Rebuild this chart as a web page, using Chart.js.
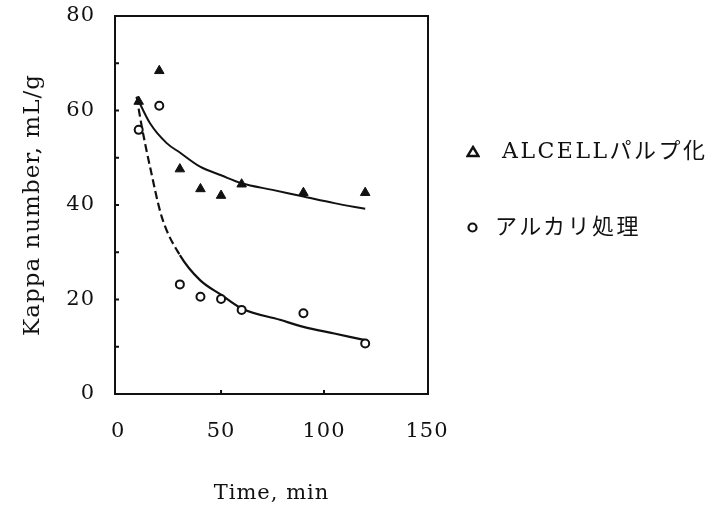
<!DOCTYPE html>
<html>
<head>
<meta charset="utf-8">
<script src="https://cdn.jsdelivr.net/npm/chart.js@4.4.1/dist/chart.umd.min.js"></script>
<style>
html, body { margin: 0; padding: 0; background: #fff; }
#wrap { position: relative; width: 723px; height: 508px; }
.item { position: absolute; white-space: nowrap; font-family: "DejaVu Serif", "Noto Sans CJK JP", serif;
        font-size: 22px; line-height: 22px; letter-spacing: 2.5px; color: #111; }
.sym { position: absolute; }
</style>
</head>
<body>
<div id="wrap">
  <canvas id="myChart" width="723" height="508"></canvas>
  <svg class="sym" style="left:466px;top:145px" width="14" height="13"><polygon points="7,2 12.5,11 1.5,11" fill="#fff" stroke="#111" stroke-width="2.4"/></svg>
  <div class="item" style="left:502px;top:140px">ALCELLパルプ化</div>
  <svg class="sym" style="left:466px;top:221px" width="13" height="13"><circle cx="6.5" cy="6.5" r="4" fill="#fff" stroke="#111" stroke-width="2.2"/></svg>
  <div class="item" style="left:495px;top:216px">アルカリ処理</div>
</div>
<script>
// measured points
const times = [10, 20, 30, 40, 50, 60, 90, 120];
const alcell = [61.9, 68.4, 47.6, 43.4, 42.0, 44.4, 42.6, 42.6];
const alkali = [55.9, 61.0, 23.2, 20.6, 20.1, 17.8, 17.1, 10.7];

// fitted curves
const alcellFitX = [9, 15.5, 23.6, 30, 39.8, 50, 60, 75, 90, 105, 120];
const alcellFitY = [62.9, 57.3, 53.1, 51.1, 48.1, 46.3, 44.6, 43.2, 41.8, 40.4, 39.2];
const alkaliFitX = [9, 11.5, 15.5, 21.2, 30, 39.8, 50, 60, 78.6, 90, 105, 120];
const alkaliFitY = [62.9, 56.6, 48.1, 37.5, 29.4, 24.1, 21.0, 18.1, 15.7, 14.2, 12.8, 11.4];

const xTicks = [0, 50, 100, 150];
const yLabelStep = 20;

const ink = '#111';
const serif = 'DejaVu Serif';

function pairs(xs, ys) {
    return xs.map(function(x, i) { return {x: x, y: ys[i]}; });
}

// box around the plot and small inward ticks
const frame = {
    id: 'frame',
    beforeDraw(chart) {
        chart.ctx.letterSpacing = '1px';
    },
    afterDatasetsDraw(chart) {
        const {ctx, chartArea: a, scales: {x, y}} = chart;
        ctx.save();
        ctx.strokeStyle = ink;
        ctx.lineWidth = 2;
        ctx.strokeRect(a.left, a.top, a.right - a.left, a.bottom - a.top);
        ctx.beginPath();
        y.ticks.forEach(function(t) {
            const py = y.getPixelForValue(t.value);
            ctx.moveTo(a.left, py);
            ctx.lineTo(a.left + 4, py);
        });
        x.ticks.forEach(function(t) {
            if (t.value <= 0 || t.value >= 150) return;
            const px = x.getPixelForValue(t.value);
            ctx.moveTo(px, a.bottom);
            ctx.lineTo(px, a.bottom - 4);
        });
        ctx.stroke();
        ctx.restore();
    }
};

const chartData = {
    datasets: [
        {
            label: 'ALCELLパルプ化',
            data: pairs(times, alcell),
            pointStyle: 'triangle',
            pointRadius: 5.5,
            backgroundColor: ink,
            borderColor: ink,
            borderWidth: 1
        },
        {
            label: 'アルカリ処理',
            data: pairs(times, alkali),
            pointStyle: 'circle',
            pointRadius: 4,
            backgroundColor: '#fff',
            borderColor: ink,
            borderWidth: 2
        },
        {
            label: 'fit1',
            data: pairs(alcellFitX, alcellFitY),
            showLine: true,
            pointRadius: 0,
            borderColor: ink,
            borderWidth: 2,
            cubicInterpolationMode: 'monotone'
        },
        {
            label: 'fit2',
            data: pairs(alkaliFitX, alkaliFitY),
            showLine: true,
            pointRadius: 0,
            borderColor: ink,
            borderWidth: 2.2,
            cubicInterpolationMode: 'monotone',
            segment: {
                borderDash: function(ctx) {
                    return ctx.p0.parsed.x < 30 ? [8, 4] : undefined;
                }
            }
        }
    ]
};

const config = {
    type: 'scatter',
    data: chartData,
    options: {
        responsive: false,
        animation: false,
        events: [],
        layout: { padding: { top: 16, right: 295, left: 0, bottom: 0 } },
        plugins: {
            legend: { display: false },
            tooltip: { enabled: false }
        },
        scales: {
            x: {
                type: 'linear',
                min: -1.5,
                max: 150.5,
                afterFit(s) { s.height = 114; s.paddingLeft = 0; s.paddingRight = 0; },
                afterBuildTicks(s) { s.ticks = xTicks.map(function(v) { return {value: v}; }); },
                grid: { display: false, drawTicks: false },
                border: { display: false },
                ticks: {
                    padding: 25,
                    maxRotation: 0,
                    color: ink,
                    font: { family: serif, size: 21 }
                },
                title: {
                    display: true,
                    text: 'Time, min',
                    color: ink,
                    font: { family: serif, size: 21 },
                    padding: { top: 0, bottom: 2 }
                }
            },
            y: {
                min: 0,
                max: 80,
                afterFit(s) { s.width = 115; s.paddingTop = 0; s.paddingBottom = 0; },
                grid: { display: false, drawTicks: false },
                border: { display: false },
                ticks: {
                    stepSize: 10,
                    padding: 20,
                    color: ink,
                    font: { family: serif, size: 21 },
                    callback: function(v) { return v % yLabelStep === 0 ? v : ''; }
                },
                title: {
                    display: true,
                    text: 'Kappa number, mL/g',
                    color: ink,
                    font: { family: serif, size: 23 },
                    padding: { top: 19, bottom: 0 }
                }
            }
        }
    },
    plugins: [frame]
};

var myChart = new Chart(document.getElementById('myChart'), config);
</script>
</body>
</html>
